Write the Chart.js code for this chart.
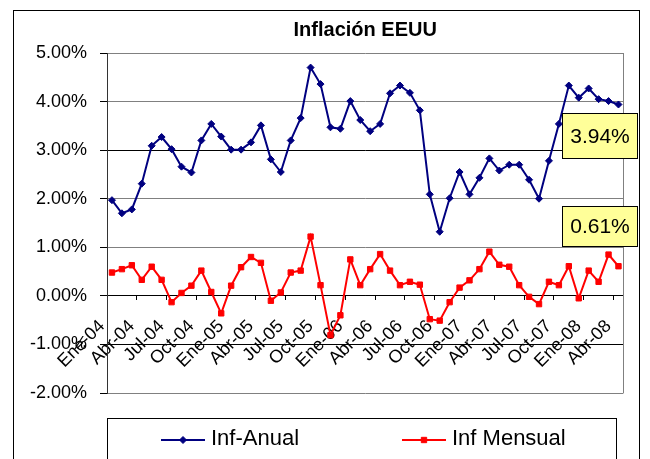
<!DOCTYPE html>
<html>
<head>
<meta charset="utf-8">
<title>Inflación EEUU</title>
<script src="https://cdn.jsdelivr.net/npm/chart.js@4.4.0/dist/chart.umd.min.js"></script>
<style>
  body { margin: 0; background: #fff; }
  #caja { width: 650px; height: 459px; overflow: hidden; }
</style>
</head>
<body>
<div id="caja"><canvas id="grafico" width="650" height="459"></canvas></div>
<script>
// Datos (en %)
var meses = [
    'Ene-04', 'Feb-04', 'Mar-04', 'Abr-04', 'May-04', 'Jun-04', 'Jul-04', 'Ago-04', 'Sep-04', 'Oct-04', 'Nov-04', 'Dic-04',
    'Ene-05', 'Feb-05', 'Mar-05', 'Abr-05', 'May-05', 'Jun-05', 'Jul-05', 'Ago-05', 'Sep-05', 'Oct-05', 'Nov-05', 'Dic-05',
    'Ene-06', 'Feb-06', 'Mar-06', 'Abr-06', 'May-06', 'Jun-06', 'Jul-06', 'Ago-06', 'Sep-06', 'Oct-06', 'Nov-06', 'Dic-06',
    'Ene-07', 'Feb-07', 'Mar-07', 'Abr-07', 'May-07', 'Jun-07', 'Jul-07', 'Ago-07', 'Sep-07', 'Oct-07', 'Nov-07', 'Dic-07',
    'Ene-08', 'Feb-08', 'Mar-08', 'Abr-08'
];

var infAnual = [
    1.97, 1.70, 1.78, 2.31, 3.09, 3.27, 3.02, 2.66, 2.54, 3.20, 3.54, 3.28,
    3.01, 3.01, 3.16, 3.51, 2.81, 2.55, 3.20, 3.66, 4.70, 4.36, 3.47, 3.44,
    4.01, 3.62, 3.39, 3.54, 4.17, 4.33, 4.18, 3.82, 2.09, 1.32, 2.01, 2.55,
    2.09, 2.43, 2.83, 2.58, 2.70, 2.70, 2.39, 2.00, 2.78, 3.54, 4.33, 4.08,
    4.27, 4.05, 4.01, 3.94
];

var infMensual = [
    0.48, 0.55, 0.63, 0.33, 0.60, 0.33, -0.13, 0.06, 0.21, 0.52, 0.08, -0.36,
    0.21, 0.59, 0.80, 0.68, -0.10, 0.07, 0.48, 0.52, 1.22, 0.22, -0.81, -0.40,
    0.75, 0.22, 0.55, 0.86, 0.52, 0.22, 0.29, 0.23, -0.48, -0.51, -0.13, 0.17,
    0.32, 0.55, 0.91, 0.64, 0.60, 0.22, -0.02, -0.17, 0.29, 0.22, 0.61, -0.05,
    0.52, 0.29, 0.85, 0.61
];

var ejeY = { min: -2, max: 5, paso: 1 };
var lineasNegras = [3, 0, -1];

var fuente = '"Liberation Sans", Arial, sans-serif';
Chart.defaults.font.family = fuente;
Chart.defaults.color = '#000';

function formatoPct(v) {
    return Number(v).toFixed(2) + '%';
}

// marco exterior del grafico y borde derecho del area de trazado
var marco = {
    id: 'marco',
    beforeDraw: function(chart) {
        var ctx = chart.ctx;
        ctx.save();
        ctx.fillStyle = '#fff';
        ctx.fillRect(0, 0, chart.width, chart.height);
        ctx.strokeStyle = '#000';
        ctx.lineWidth = 1;
        ctx.strokeRect(13.5, 10.5, 626, 480);
        ctx.restore();
    },
    beforeDatasetsDraw: function(chart) {
        var a = chart.chartArea;
        var ctx = chart.ctx;
        ctx.save();
        ctx.strokeStyle = '#808080';
        ctx.lineWidth = 1;
        ctx.beginPath();
        ctx.moveTo(Math.round(a.right) + 0.5, a.top);
        ctx.lineTo(Math.round(a.right) + 0.5, a.bottom);
        ctx.stroke();
        ctx.restore();
    }
};

// etiquetas amarillas con el ultimo valor de cada serie
var ultimoValor = {
    id: 'ultimoValor',
    afterDatasetsDraw: function(chart, args, opts) {
        var ctx = chart.ctx;
        chart.data.datasets.forEach(function(ds, i) {
            var meta = chart.getDatasetMeta(i);
            var n = ds.data.length - 1;
            var punto = meta.data[n];
            var c = opts.cajas[i];
            var x = Math.round(punto.x + c.dx) + 0.5;
            var y = Math.round(punto.y + c.dy) + 0.5;
            ctx.save();
            ctx.fillStyle = '#ffff99';
            ctx.strokeStyle = '#000';
            ctx.lineWidth = 1;
            ctx.fillRect(x, y, c.w, c.h);
            ctx.strokeRect(x, y, c.w, c.h);
            ctx.fillStyle = '#000';
            ctx.font = '21px ' + fuente;
            ctx.textAlign = 'center';
            ctx.textBaseline = 'middle';
            ctx.fillText(formatoPct(ds.data[n]), x + c.w / 2, y + c.h / 2 + 1);
            ctx.restore();
        });
    }
};

// leyenda con linea y marcador, dentro de su recuadro
var leyenda = {
    id: 'leyenda',
    afterDraw: function(chart, args, opts) {
        var ctx = chart.ctx;
        ctx.save();
        ctx.strokeStyle = '#000';
        ctx.lineWidth = 1;
        ctx.strokeRect(opts.x + 0.5, opts.y + 0.5, opts.ancho, 80);
        chart.data.datasets.forEach(function(ds, i) {
            var x0 = opts.items[i];
            var yl = opts.y + 22;
            ctx.strokeStyle = ds.borderColor;
            ctx.lineWidth = 2;
            ctx.beginPath();
            ctx.moveTo(x0, yl);
            ctx.lineTo(x0 + 44, yl);
            ctx.stroke();
            ctx.fillStyle = ds.backgroundColor;
            ctx.lineWidth = 1;
            Chart.helpers.drawPoint(ctx, {
                pointStyle: ds.pointStyle,
                radius: ds.pointRadius,
                rotation: 0,
                borderWidth: 1
            }, x0 + 22, yl);
            ctx.fillStyle = '#000';
            ctx.font = '22px ' + fuente;
            ctx.textAlign = 'left';
            ctx.textBaseline = 'alphabetic';
            ctx.fillText(ds.label, x0 + 50, opts.y + 27);
        });
        ctx.restore();
    }
};

var config = {
    type: 'line',
    data: {
        labels: meses,
        datasets: [{
            label: 'Inf-Anual',
            data: infAnual,
            borderColor: '#000080',
            backgroundColor: '#000080',
            borderWidth: 2,
            pointStyle: 'rectRot',
            pointRadius: 3.5,
            pointBorderWidth: 1,
            tension: 0
        }, {
            label: 'Inf Mensual',
            data: infMensual,
            borderColor: '#ff0000',
            backgroundColor: '#ff0000',
            borderWidth: 2,
            pointStyle: 'rect',
            pointRadius: 3.8,
            pointBorderWidth: 1,
            tension: 0
        }]
    },
    options: {
        responsive: false,
        animation: false,
        layout: {
            padding: { top: 6, left: 0, right: 22, bottom: 66 }
        },
        plugins: {
            legend: { display: false },
            tooltip: { enabled: false },
            title: {
                display: true,
                text: 'Inflación EEUU',
                fullSize: false,
                color: '#000',
                font: { size: 20, weight: 'bold' },
                padding: { top: 12, bottom: 11 }
            },
            ultimoValor: {
                cajas: [
                    { dx: -56.5, dy: 8.5, w: 75, h: 45 },
                    { dx: -56.5, dy: -60.5, w: 75, h: 40 }
                ]
            },
            leyenda: { x: 107, y: 418, ancho: 509, items: [161, 402] }
        },
        scales: {
            x: {
                position: { y: 0 },
                offset: true,
                grid: {
                    offset: true,
                    drawOnChartArea: false,
                    drawTicks: true,
                    tickLength: 4,
                    color: '#000',
                    tickColor: function(c) {
                        return c.index % 3 === 0 ? '#000' : 'rgba(0,0,0,0)';
                    }
                },
                border: { display: true, color: '#000', width: 1 },
                ticks: {
                    autoSkip: false,
                    maxRotation: 45,
                    minRotation: 45,
                    labelOffset: -10,
                    padding: 16,
                    color: '#000',
                    font: { size: 18 },
                    callback: function(v, i) {
                        return i % 3 === 0 ? this.getLabelForValue(v) : '';
                    }
                }
            },
            y: {
                min: ejeY.min,
                max: ejeY.max,
                grid: {
                    color: function(c) {
                        if (c.tick && lineasNegras.indexOf(c.tick.value) >= 0) {
                            return '#000';
                        }
                        return '#808080';
                    },
                    tickLength: 7,
                    tickColor: '#000'
                },
                border: { color: '#333' },
                ticks: {
                    stepSize: ejeY.paso,
                    padding: 13,
                    color: '#000',
                    font: { size: 18 },
                    callback: function(v) { return formatoPct(v); }
                },
                afterFit: function(escala) {
                    escala.width = 107;
                }
            }
        }
    },
    plugins: [marco, ultimoValor, leyenda]
};

var grafico = new Chart(document.getElementById('grafico'), config);
</script>
</body>
</html>
